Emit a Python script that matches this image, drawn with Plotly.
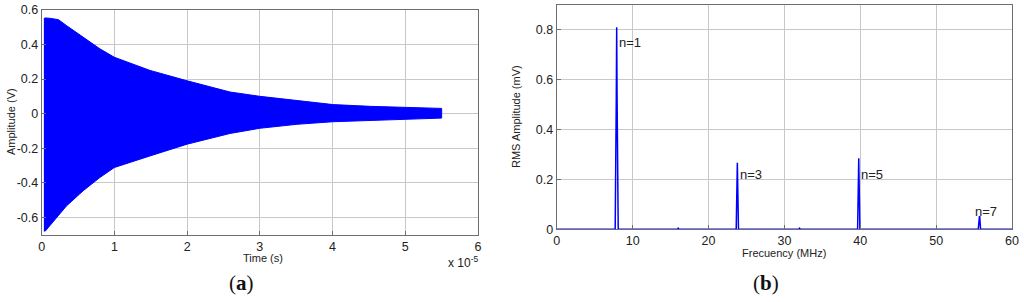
import plotly.graph_objects as go

# (a) envelope of the decaying signal, time in units of 1e-5 s
time_e5 = [0.03, 0.05, 0.11, 0.23, 0.34, 0.57, 0.80, 1.00, 1.49, 2.00, 2.59, 3.00,
           3.51, 4.01, 4.52, 5.02, 5.50]
upper_v = [0.55, 0.554, 0.552, 0.544, 0.51, 0.44, 0.375, 0.326, 0.25, 0.19, 0.125, 0.10,
           0.074, 0.052, 0.042, 0.036, 0.03]
lower_v = [-0.68, -0.68, -0.65, -0.59, -0.535, -0.447, -0.37, -0.312, -0.245, -0.177, -0.115,
           -0.085, -0.062, -0.047, -0.037, -0.032, -0.026]

# (b) RMS spectrum, frequency in MHz, amplitude in mV
freq_mhz = [0, 7.7, 7.85, 7.9, 7.95, 8.1, 15.9, 16.0, 16.1, 23.65, 23.8, 23.95, 31.9, 32.0, 32.1,
            39.65, 39.8, 39.95, 55.55, 55.65, 55.7, 55.75, 55.85, 60]
rms_mv = [0, 0, 0.54, 0.811, 0.54, 0, 0, 0.004, 0, 0, 0.267, 0, 0, 0.004, 0,
          0, 0.285, 0, 0, 0.05, 0.05, 0.05, 0, 0]

harmonics = ["n=1", "n=3", "n=5", "n=7"]
harm_x = [8.0, 23.9, 39.9, 54.9]
harm_y = [0.75, 0.22, 0.22, 0.07]

blue = "#0000ff"
grid = "#c8c8c8"
font = "Liberation Sans, Arial, sans-serif"

fig = go.Figure()

fig.add_trace(go.Scatter(
    x=time_e5 + time_e5[::-1], y=upper_v + lower_v[::-1],
    fill="toself", fillcolor=blue, mode="lines", line=dict(color=blue, width=1),
    xaxis="x", yaxis="y", showlegend=False, hoverinfo="skip"))

fig.add_trace(go.Scatter(
    x=freq_mhz, y=rms_mv, mode="lines", line=dict(color=blue, width=1.5),
    xaxis="x2", yaxis="y2", showlegend=False))

axis_style = dict(showline=True, mirror=True, linecolor="#6e6e6e", linewidth=1,
                  showgrid=True, gridcolor=grid, gridwidth=1, zeroline=False,
                  ticks="inside", ticklen=4, tickcolor="#6e6e6e",
                  tickfont=dict(family=font, size=12.5, color="#222"), automargin=False)

fig.update_layout(
    width=1024, height=302,
    margin=dict(l=0, r=0, t=0, b=0),
    paper_bgcolor="white", plot_bgcolor="white",
    font=dict(family=font, color="#222"),
    xaxis=dict(domain=[0.0407, 0.4668], range=[0, 6], tickvals=[0, 1, 2, 3, 4, 5, 6],
               anchor="y", **axis_style),
    yaxis=dict(domain=[0.2235, 0.967], range=[-0.7, 0.6],
               tickvals=[-0.6, -0.4, -0.2, 0, 0.2, 0.4, 0.6],
               ticktext=["-0.6", "-0.4", "-0.2", "0", "0.2", "0.4", "0.6"],
               anchor="x", **axis_style),
    xaxis2=dict(domain=[0.5437, 0.9883], range=[0, 60], tickvals=[0, 10, 20, 30, 40, 50, 60],
                anchor="y2", **axis_style),
    yaxis2=dict(domain=[0.2407, 0.9834], range=[0, 0.9], tickvals=[0, 0.2, 0.4, 0.6, 0.8],
                ticktext=["0", "0.2", "0.4", "0.6", "0.8"], anchor="x2", **axis_style),
)

ann = []
ann.append(dict(text="Time (s)", x=263, y=258, font=dict(size=11)))
ann.append(dict(text="x 10<sup>-5</sup>", x=463, y=262, font=dict(size=12)))
ann.append(dict(text="Amplitude (V)", x=11, y=122, textangle=-90, font=dict(size=11)))
ann.append(dict(text="Frecuency (MHz)", x=784, y=253, font=dict(size=11)))
ann.append(dict(text="RMS Amplitude (mV)", x=516, y=117, textangle=-90, font=dict(size=11)))
ann.append(dict(text="(<b>a</b>)", x=241, y=283,
                font=dict(size=21, family="Liberation Serif, Times New Roman, serif", color="#111")))
ann.append(dict(text="(<b>b</b>)", x=766, y=283,
                font=dict(size=21, family="Liberation Serif, Times New Roman, serif", color="#111")))
for a in ann:
    a.update(xref="paper", yref="paper", x=a["x"] / 1024, y=1 - a["y"] / 302,
             showarrow=False, xanchor="center", yanchor="middle")
    fig.add_annotation(**a)

for label, hx, hy in zip(harmonics, harm_x, harm_y):
    fig.add_annotation(text=label, x=hx, y=hy, xref="x2", yref="y2", showarrow=False,
                       xanchor="left", yanchor="middle", font=dict(size=13, color="#222"))

# drop the page's default body margin so the figure sits at the window's corner
fig.write_html("out.html", config={"displayModeBar": False},
               post_script="document.body.style.margin='0';")
